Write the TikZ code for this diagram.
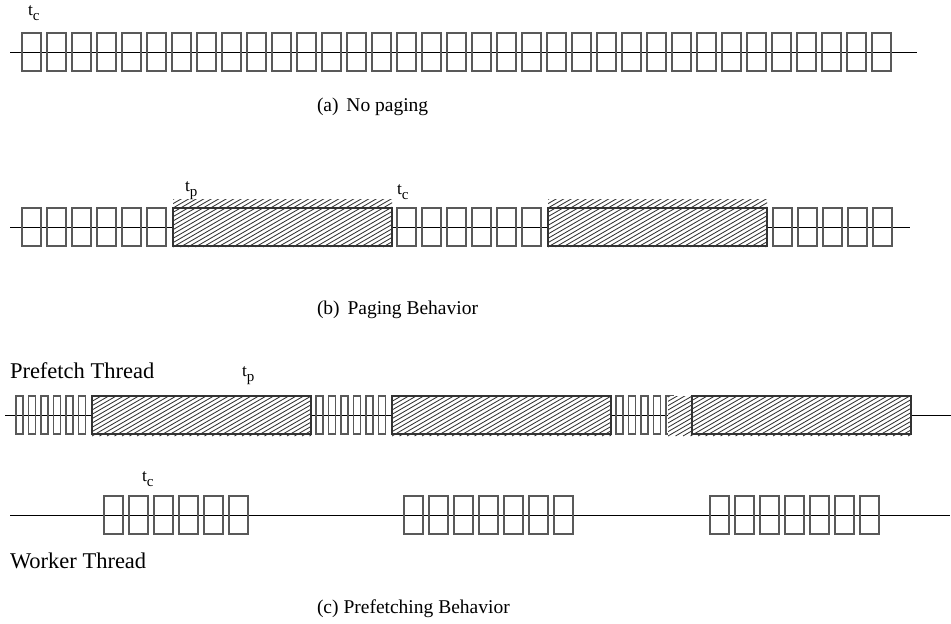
\documentclass[tikz,border=0pt]{standalone}
\usepackage{fontspec}
\setmainfont{Liberation Serif}
\newcommand{\tsub}[1]{{\fontsize{17.5}{17.5}\selectfont t\raisebox{-5pt}{\fontsize{15}{15}\selectfont #1}}}
\newcommand{\hatchbox}[4]{%
  \begin{scope}
    \fill[white] (#1,#2) rectangle (#3,#4);
    \clip (#1,#2) rectangle (#3,#4);
    \foreach \hx in {-90,-82.5,...,240} {
      \draw[hatchline] ({#1+\hx},#4) -- ++(90,-52);
    }
  \end{scope}}
\begin{document}
\begin{tikzpicture}[x=1pt,y=-1pt,
  cell/.style={draw=black!65, line width=1.3pt},
  axis/.style={draw=black, line width=0.9pt},
  hatchline/.style={draw=black!80, line width=0.85pt},
  hbord/.style={draw=black!80, line width=1.1pt},
  lbl/.style={anchor=base west, inner sep=0pt, outer sep=0pt},
  capt/.style={lbl, font=\fontsize{19.5}{20}\selectfont},
  thr/.style={lbl, font=\fontsize{22.5}{23}\selectfont}]
\useasboundingbox (0,0) rectangle (951,624);

% ---------- (a) no paging ----------
\coordinate (a1) at (10,52);
\coordinate (a2) at (917,52);
\draw[axis] (a1) -- (a2);
\foreach \i in {0,...,34} {
  \draw[cell] ({22+25*\i},33) rectangle ++(19,38);
}
\node[lbl] (tca) at (28,15) {\tsub{c}};
\node[capt] (capa) at (317,111) {(a)\hspace{0.4em}No paging};

% ---------- (b) paging behaviour ----------
\coordinate (b1) at (10,227);
\coordinate (b2) at (910,227);
\draw[axis] (b1) -- (b2);
\foreach \i in {0,...,5} {\draw[cell] ({22+25*\i},208) rectangle ++(19,38);}
\foreach \i in {0,...,5} {\draw[cell] ({397+25*\i},208) rectangle ++(19,38);}
\foreach \i in {0,...,4} {\draw[cell] ({773+25*\i},208) rectangle ++(19,38);}
\hatchbox{173}{199}{392}{247}
\draw[hbord] (173,208) rectangle (392,246);
\hatchbox{548}{199}{767}{247}
\draw[hbord] (548,208) rectangle (767,246);
\node[lbl] (tpb) at (185,191) {\tsub{p}};
\node[lbl] (tcb) at (397,194) {\tsub{c}};
\node[capt] (capb) at (317,314) {(b)\hspace{0.4em}Paging Behavior};

% ---------- (c) prefetching behaviour ----------
\node[thr] (pt) at (10,378) {Prefetch Thread};
\node[lbl] (tpc) at (242,376) {\tsub{p}};
\coordinate (p1) at (5,415);
\coordinate (p2) at (951,415);
\draw[axis] (p1) -- (p2);
\foreach \i in {0,...,5} {\draw[cell] ({16+12.5*\i},396) rectangle ++(7,38);}
\foreach \i in {0,...,5} {\draw[cell] ({316+12.5*\i},396) rectangle ++(7,38);}
\foreach \i in {0,...,4} {\draw[cell] ({616+12.5*\i},396) rectangle ++(7,38);}
\hatchbox{92}{396}{311}{436}
\draw[hbord] (92,396) rectangle (311,434);
\hatchbox{392}{396}{611}{436}
\draw[hbord] (392,396) rectangle (611,434);
\hatchbox{668}{396}{911}{436}
\draw[hbord] (692,396) rectangle (911,434);

\node[lbl] (tcw) at (142,481) {\tsub{c}};
\coordinate (w1) at (10,515);
\coordinate (w2) at (950,515);
\draw[axis] (w1) -- (w2);
\foreach \i in {0,...,5} {\draw[cell] ({104+25*\i},496) rectangle ++(19,38);}
\foreach \i in {0,...,6} {\draw[cell] ({404+25*\i},496) rectangle ++(19,38);}
\foreach \i in {0,...,6} {\draw[cell] ({710+25*\i},496) rectangle ++(19,38);}
\node[thr] (wt) at (10,568) {Worker Thread};
\node[capt] (capc) at (317,613) {(c) Prefetching Behavior};
\end{tikzpicture}
\end{document}
